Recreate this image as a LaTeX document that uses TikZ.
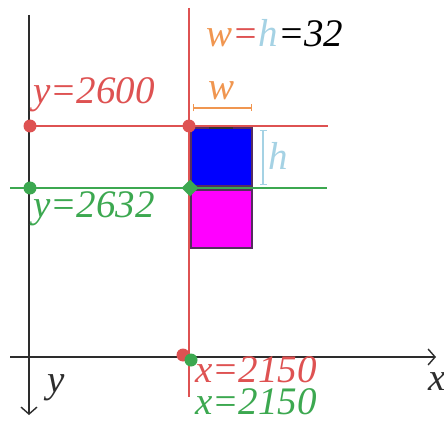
\documentclass[tikz,border=0pt]{standalone}
\usepackage{fontspec}
\setmainfont{Liberation Serif}
\usetikzlibrary{arrows.meta,shapes.geometric}
\definecolor{lred}{RGB}{222,82,82}
\definecolor{lgreen}{RGB}{60,168,80}
\definecolor{lorange}{RGB}{240,150,80}
\definecolor{lblue}{RGB}{165,210,228}
\definecolor{rimcol}{RGB}{85,45,95}
\definecolor{axiscol}{RGB}{45,45,45}
\definecolor{tileblue}{RGB}{0,0,255}
\definecolor{tilemag}{RGB}{255,0,255}
\begin{document}
\begin{tikzpicture}[x=1pt,y=-1pt,>={Straight Barb[length=7pt,width=16pt]},
  lbl/.style={anchor=base west,inner sep=0pt,font=\fontsize{39}{42}\selectfont\itshape},
  dot/.style={circle,fill,inner sep=0pt,minimum size=13pt}]
\useasboundingbox (0,0) rectangle (444,422);
% axes
\coordinate (ytop) at (29,15);
\coordinate (ybot) at (29,415);
\coordinate (xl) at (10,357);
\coordinate (xr) at (436,357);
\draw[axiscol,line width=1.4pt,->] (ytop) -- (ybot);
\draw[axiscol,line width=1.4pt,->] (xl) -- (xr);
\node[lbl,text=axiscol] (ylab) at (47,392) {y};
\node[lbl,text=axiscol] (xlab) at (428,390) {x};
% guide lines
\coordinate (vtop) at (189,8);
\coordinate (vbot) at (189,397);
\coordinate (rend) at (328,126);
\coordinate (gl) at (10,188);
\coordinate (gend) at (327,188);
\draw[lred,line width=1.2pt] (vtop) -- (vbot);
\draw[lred,line width=1.2pt] (30,126) -- (rend);
\draw[lgreen,line width=1.2pt] (gl) -- (gend);
% tiles
\draw[rimcol,line width=1.5pt,fill=tileblue] (191,128) rectangle (252,186);
\draw[rimcol,line width=1.5pt,fill=tilemag] (191,190) rectangle (252,248);
\draw[black!80,line width=2pt] (209,128) -- (233,128);
% points
\node[dot,lred] (ra) at (30,126) {};
\node[dot,lred] (rb) at (189,126) {};
\node[dot,lgreen] (ga) at (30,188) {};
\node[diamond,fill,lgreen,inner sep=0pt,minimum size=17pt] (gb) at (190,188) {};
\node[dot,lred] (rx) at (183,355) {};
\node[dot,lgreen] (gx) at (191,360) {};
% sizes
\draw[lorange,line width=1.2pt,{Bar[width=7pt]}-{Bar[width=7pt]}] (193,108) -- (252,108);
\draw[lblue,line width=1.2pt,{Bar[width=7pt]}-{Bar[width=7pt]}] (263,130) -- (263,185);
\node[lbl,anchor=base,text=lorange] (wlab) at (222,100) {w};
\node[lbl,anchor=base,text=lblue] (hlab) at (278,170) {h};
% labels
\node[lbl] (title) at (206,47) {\textcolor{lorange}{w}\textcolor{lred}{=}\textcolor{lblue}{h}=32};
\node[lbl,text=lred] (ry) at (33,104) {y=2600};
\node[lbl,text=lgreen] (gy) at (33,217) {y=2632};
\node[lbl,text=lred] (rxl) at (195,382) {x=2150};
\node[lbl,text=lgreen] (gxl) at (195,414) {x=2150};
\end{tikzpicture}
\end{document}
